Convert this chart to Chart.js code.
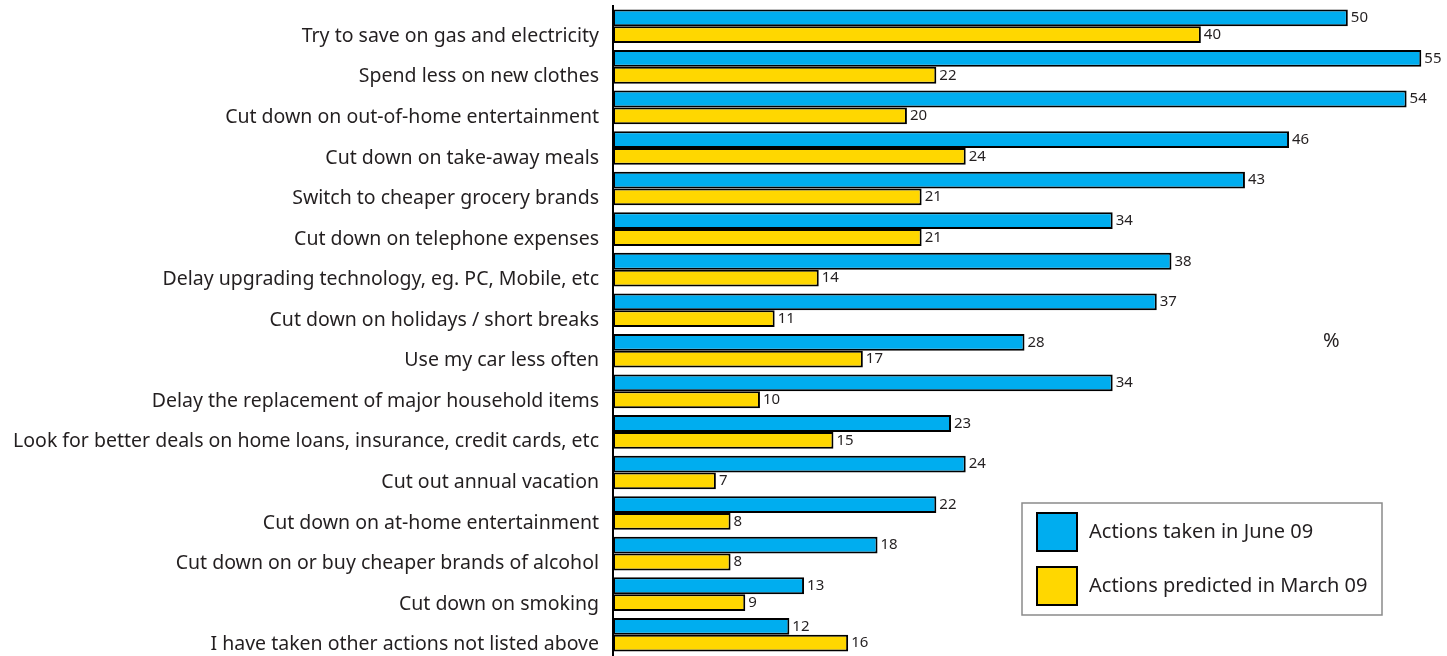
<!DOCTYPE html>
<html>
<head>
<meta charset="utf-8">
<script src="https://cdn.jsdelivr.net/npm/chart.js@4/dist/chart.umd.min.js"></script>
<style>
  html, body { margin: 0; padding: 0; background: #fff; }
  #wrap { width: 1447px; height: 656px; }
</style>
</head>
<body>
<div id="wrap"><canvas id="c" width="1447" height="656"></canvas></div>
<script>
const categories = [
  "Try to save on gas and electricity",
  "Spend less on new clothes",
  "Cut down on out-of-home entertainment",
  "Cut down on take-away meals",
  "Switch to cheaper grocery brands",
  "Cut down on telephone expenses",
  "Delay upgrading technology, eg. PC, Mobile, etc",
  "Cut down on holidays / short breaks",
  "Use my car less often",
  "Delay the replacement of major household items",
  "Look for better deals on home loans, insurance, credit cards, etc",
  "Cut out annual vacation",
  "Cut down on at-home entertainment",
  "Cut down on or buy cheaper brands of alcohol",
  "Cut down on smoking",
  "I have taken other actions not listed above"
];
const takenJune09 = [50, 55, 54, 46, 43, 34, 38, 37, 28, 34, 23, 24, 22, 18, 13, 12];
const predictedMarch09 = [40, 22, 20, 24, 21, 21, 14, 11, 17, 10, 15, 7, 8, 8, 9, 16];
const seriesNames = ["Actions taken in June 09", "Actions predicted in March 09"];

const TEXT = "#231f20";
const FONT = "'Noto Sans', 'Open Sans', sans-serif";

// Value printed just past the end of each bar
const valueLabels = {
  id: "valueLabels",
  afterDatasetsDraw(chart) {
    const ctx = chart.ctx;
    ctx.save();
    ctx.fillStyle = TEXT;
    ctx.font = "15px " + FONT;
    ctx.textAlign = "left";
    ctx.textBaseline = "middle";
    chart.data.datasets.forEach((ds, i) => {
      chart.getDatasetMeta(i).data.forEach((bar, j) => {
        ctx.fillText(String(ds.data[j]), bar.x + 3, bar.y);
      });
    });
    ctx.restore();
  }
};

// Boxed legend and the "%" unit note
const boxLegend = {
  id: "boxLegend",
  afterDraw(chart) {
    const ctx = chart.ctx;
    ctx.save();
    ctx.strokeStyle = "#8a8a8a";
    ctx.lineWidth = 1.5;
    ctx.fillStyle = "#fff";
    ctx.fillRect(1022, 503, 360, 112);
    ctx.strokeRect(1022, 503, 360, 112);
    const rows = [532, 586];
    chart.data.datasets.forEach((ds, i) => {
      const y = rows[i];
      ctx.fillStyle = ds.backgroundColor;
      ctx.fillRect(1037, y - 19, 40, 38);
      ctx.strokeStyle = "#000";
      ctx.lineWidth = 2;
      ctx.strokeRect(1037, y - 19, 40, 38);
      ctx.fillStyle = TEXT;
      ctx.font = "20px " + FONT;
      ctx.textAlign = "left";
      ctx.textBaseline = "middle";
      ctx.fillText(ds.label, 1089, y);
    });
    ctx.font = "20px " + FONT;
    ctx.fillStyle = TEXT;
    ctx.fillText("%", 1323, 341);
    ctx.restore();
  }
};

new Chart(document.getElementById("c"), {
  type: "bar",
  data: {
    labels: categories,
    datasets: [
      { label: seriesNames[0], data: takenJune09, backgroundColor: "#00adef",
        borderColor: "#000", borderWidth: 2, borderSkipped: false },
      { label: seriesNames[1], data: predictedMarch09, backgroundColor: "#ffd700",
        borderColor: "#000", borderWidth: 2, borderSkipped: false }
    ]
  },
  options: {
    indexAxis: "y",
    responsive: false,
    animation: false,
    categoryPercentage: 0.83,
    barPercentage: 1.0,
    layout: { padding: { top: 6, bottom: 1, right: 11, left: 0 } },
    plugins: { legend: { display: false }, tooltip: { enabled: false } },
    scales: {
      x: { display: false, min: 0, max: 56 },
      y: {
        grid: { display: false, drawTicks: false },
        border: { display: true, color: "#000", width: 2 },
        ticks: {
          color: TEXT,
          font: { family: FONT, size: 19.5 },
          padding: 14,
          labelOffset: 10,
          autoSkip: false
        },
        afterFit(scale) {
          scale.width = 613;
          scale.paddingTop = 0;
          scale.paddingBottom = 0;
        }
      }
    }
  },
  plugins: [valueLabels, boxLegend]
});
</script>
</body>
</html>
